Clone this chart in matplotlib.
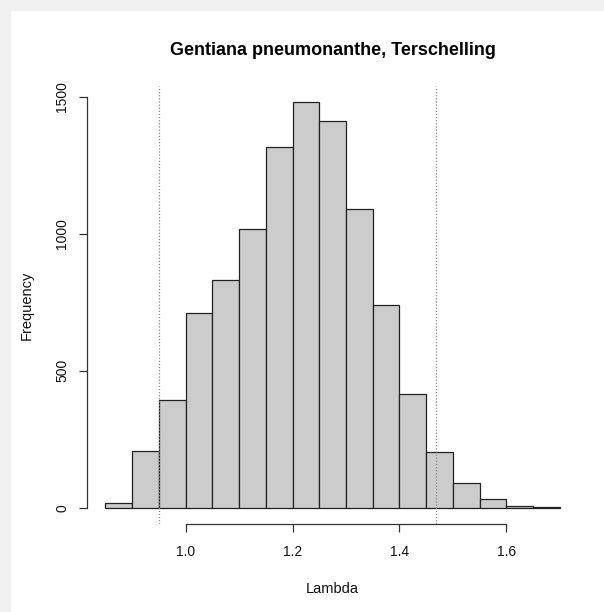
import matplotlib.pyplot as plt
from matplotlib.patches import Rectangle

plt.rcParams['font.family'] = ['Liberation Sans', 'DejaVu Sans']

# histogram of lambda, bins of 0.05
bin_edges = [0.85, 0.90, 0.95, 1.00, 1.05, 1.10, 1.15, 1.20, 1.25, 1.30,
             1.35, 1.40, 1.45, 1.50, 1.55, 1.60, 1.65, 1.70]
counts = [19, 209, 394, 711, 832, 1019, 1319, 1481, 1414, 1090,
          740, 416, 202, 90, 32, 7, 2]
# 95% interval
ci_lines = [0.951, 1.469]
xticks = [1.0, 1.2, 1.4, 1.6]
yticks = [0, 500, 1000, 1500]

fig = plt.figure(figsize=(6.04, 6.12), dpi=100)
fig.patch.set_facecolor('#f0f0f0')
bg = Rectangle((11 / 604, 0), 1, 1 - 11 / 612, transform=fig.transFigure,
               facecolor='white', edgecolor='none', zorder=-10)
fig.patches.append(bg)

ax = fig.add_axes([0.1442, 0.1438, 0.813, 0.7157])
ax.set_facecolor('none')
ax.set_zorder(1)

lefts = bin_edges[:-1]
widths = [bin_edges[i + 1] - bin_edges[i] for i in range(len(lefts))]
ax.bar(lefts, counts, width=widths, align='edge', color='#cccccc',
       edgecolor='#222222', linewidth=0.9)

for x in ci_lines:
    ax.axvline(x, color='#888888', linestyle=(0, (1, 1.5)), linewidth=0.9)

lo, hi = bin_edges[0], bin_edges[-1]
pad = (hi - lo) * 0.04
ax.set_xlim(lo - pad, hi + pad)
ymax = max(counts)
ax.set_ylim(-ymax * 0.04, ymax * 1.04)

for s in ['top', 'right']:
    ax.spines[s].set_visible(False)
ax.spines['left'].set_bounds(yticks[0], yticks[-1])
ax.spines['bottom'].set_bounds(xticks[0], xticks[-1])
for s in ['left', 'bottom']:
    ax.spines[s].set_color('#333333')
    ax.spines[s].set_linewidth(0.9)

ax.set_xticks(xticks)
ax.set_xticklabels(['%.1f' % v for v in xticks])
ax.set_yticks(yticks)
ax.set_yticklabels([str(v) for v in yticks], rotation=90, va='center')
ax.tick_params(axis='both', length=6, width=0.9, color='#333333',
               labelsize=10, labelcolor='#111111')
ax.tick_params(axis='x', pad=9)
ax.tick_params(axis='y', pad=7)

ax.set_xlabel('Lambda', fontsize=10.5, labelpad=17, color='#111111')
ax.set_ylabel('Frequency', fontsize=10.5, labelpad=15, color='#111111')
ax.set_title('Gentiana pneumonanthe, Terschelling', fontsize=13,
             fontweight='bold', pad=22)

fig.savefig('out.png', dpi=100, facecolor=fig.get_facecolor())
